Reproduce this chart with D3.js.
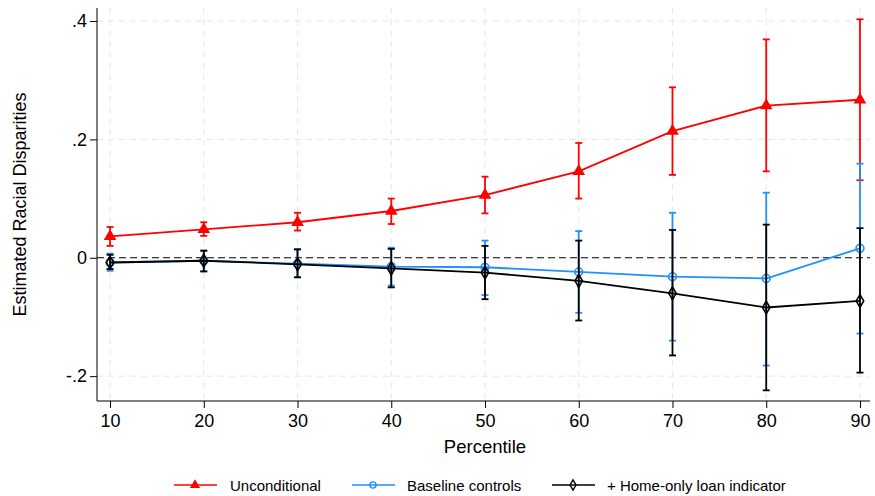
<!DOCTYPE html>
<html>
<head>
<meta charset="utf-8">
<script src="https://cdn.jsdelivr.net/npm/d3@7"></script>
<style>
  body { margin: 0; background: #fff; }
  text { font-family: "Liberation Sans", Arial, sans-serif; fill: #000; }
</style>
</head>
<body>
<div class="diagram"></div>
<script>
var width = 875, height = 496;

// data
var percentiles = [10, 20, 30, 40, 50, 60, 70, 80, 90];
var uncondEst = [0.036, 0.048, 0.060, 0.079, 0.106, 0.146, 0.214, 0.257, 0.267];
var uncondLo  = [0.020, 0.037, 0.046, 0.057, 0.075, 0.100, 0.140, 0.146, 0.131];
var uncondHi  = [0.052, 0.060, 0.076, 0.100, 0.137, 0.194, 0.288, 0.369, 0.403];
var baseEst = [-0.008, -0.005, -0.010, -0.015, -0.016, -0.024, -0.032, -0.035, 0.016];
var baseLo  = [-0.022, -0.023, -0.033, -0.047, -0.063, -0.093, -0.140, -0.182, -0.128];
var baseHi  = [0.007, 0.012, 0.015, 0.017, 0.029, 0.045, 0.076, 0.110, 0.159];
var homeEst = [-0.008, -0.005, -0.011, -0.018, -0.025, -0.039, -0.060, -0.084, -0.073];
var homeLo  = [-0.019, -0.023, -0.033, -0.050, -0.070, -0.106, -0.165, -0.224, -0.194];
var homeHi  = [0.005, 0.012, 0.014, 0.015, 0.020, 0.029, 0.047, 0.056, 0.050];
var yTicks = [-0.2, 0, 0.2, 0.4];
var yTickLabels = ["-.2", "0", ".2", ".4"];
var seriesNames = ["Unconditional", "Baseline controls", "+ Home-only loan indicator"];

function build(est, lo, hi) {
  return percentiles.map(function(p, i) { return {p: p, est: est[i], lo: lo[i], hi: hi[i]}; });
}

var series = [
  {name: seriesNames[0], color: "#ff0000", symbol: d3.symbolTriangle, fill: true, values: build(uncondEst, uncondLo, uncondHi)},
  {name: seriesNames[1], color: "#1e90ff", symbol: d3.symbolCircle, fill: false, values: build(baseEst, baseLo, baseHi)},
  {name: seriesNames[2], color: "#000000", symbol: d3.symbolDiamond, fill: false, values: build(homeEst, homeLo, homeHi)}
];

var plotLeft = 97, plotRight = 870, plotTop = 8, plotBottom = 401;

var x = d3.scaleLinear().domain([8.61, 91.07]).range([plotLeft, plotRight]);
var y = d3.scaleLinear().domain([-0.242, 0.422]).range([plotBottom, plotTop]);

var svg = d3.select('.diagram')
  .append('svg')
  .attr('width', width)
  .attr('height', height);

// grid
svg.append('g').selectAll('line')
  .data(percentiles).enter().append('line')
  .attr('x1', function(d) { return x(d); })
  .attr('x2', function(d) { return x(d); })
  .attr('y1', plotTop).attr('y2', plotBottom)
  .attr('stroke', '#e6e6e6').attr('stroke-dasharray', '6,5');

svg.append('g').selectAll('line')
  .data(yTicks.filter(function(d) { return d !== 0; })).enter().append('line')
  .attr('x1', plotLeft).attr('x2', plotRight)
  .attr('y1', function(d) { return y(d); })
  .attr('y2', function(d) { return y(d); })
  .attr('stroke', '#e6e6e6').attr('stroke-dasharray', '6,5');

// zero reference line
svg.append('line')
  .attr('x1', plotLeft).attr('x2', plotRight)
  .attr('y1', y(0)).attr('y2', y(0))
  .attr('stroke', '#000').attr('stroke-width', 1.2).attr('stroke-dasharray', '7,4');

// axes
var yAxis = svg.append('g')
  .attr('transform', 'translate(' + plotLeft + ',0)')
  .call(d3.axisLeft(y).tickValues(yTicks).tickSize(7).tickPadding(3)
    .tickFormat(function(d, i) { return yTickLabels[i]; }));

var xAxis = svg.append('g')
  .attr('transform', 'translate(0,' + plotBottom + ')')
  .call(d3.axisBottom(x).tickValues(percentiles).tickSize(7).tickPadding(6));

[xAxis, yAxis].forEach(function(a) {
  a.select('.domain').remove();
  a.selectAll('text').style('font-size', '18px').attr('fill', '#000');
  a.selectAll('.tick line').attr('stroke', '#000');
});
svg.append('line').attr('x1', plotLeft).attr('x2', plotLeft).attr('y1', plotTop).attr('y2', plotBottom).attr('stroke', '#000');
svg.append('line').attr('x1', plotLeft).attr('x2', plotRight).attr('y1', plotBottom).attr('y2', plotBottom).attr('stroke', '#000');

svg.append('text')
  .attr('x', 485).attr('y', 453)
  .attr('text-anchor', 'middle')
  .style('font-size', '18.5px')
  .text('Percentile');

svg.append('text')
  .attr('transform', 'translate(26,' + ((plotTop + plotBottom) / 2) + ') rotate(-90)')
  .attr('text-anchor', 'middle')
  .style('font-size', '18px')
  .text('Estimated Racial Disparities');

var line = d3.line()
  .x(function(d) { return x(d.p); })
  .y(function(d) { return y(d.est); });

var cap = 3.5;

series.forEach(function(s) {
  var g = svg.append('g');

  g.append('path')
    .attr('d', line(s.values))
    .attr('fill', 'none')
    .attr('stroke', s.color)
    .attr('stroke-width', 1.8);

  var eb = g.selectAll('.eb').data(s.values).enter().append('g');
  eb.append('line')
    .attr('x1', function(d) { return x(d.p); }).attr('x2', function(d) { return x(d.p); })
    .attr('y1', function(d) { return y(d.lo); }).attr('y2', function(d) { return y(d.hi); })
    .attr('stroke', s.color).attr('stroke-width', 1.8);
  eb.append('line')
    .attr('x1', function(d) { return x(d.p) - cap; }).attr('x2', function(d) { return x(d.p) + cap; })
    .attr('y1', function(d) { return y(d.lo); }).attr('y2', function(d) { return y(d.lo); })
    .attr('stroke', s.color).attr('stroke-width', 1.8);
  eb.append('line')
    .attr('x1', function(d) { return x(d.p) - cap; }).attr('x2', function(d) { return x(d.p) + cap; })
    .attr('y1', function(d) { return y(d.hi); }).attr('y2', function(d) { return y(d.hi); })
    .attr('stroke', s.color).attr('stroke-width', 1.8);

  g.selectAll('.pt').data(s.values).enter().append('path')
    .attr('d', d3.symbol().type(s.symbol).size(s.fill ? 42 : 48))
    .attr('transform', function(d) { return 'translate(' + x(d.p) + ',' + y(d.est) + ')'; })
    .attr('fill', s.fill ? s.color : 'none')
    .attr('stroke', s.color)
    .attr('stroke-width', 1.6);
});

// legend
var legendX = [174, 352, 552];
var legendTextX = [230, 407, 607];
var legend = svg.append('g').attr('transform', 'translate(0,485)');
series.forEach(function(s, i) {
  var lx = legendX[i];
  legend.append('line')
    .attr('x1', lx).attr('x2', lx + 43).attr('y1', 0).attr('y2', 0)
    .attr('stroke', s.color).attr('stroke-width', 1.6);
  legend.append('path')
    .attr('d', d3.symbol().type(s.symbol).size(s.fill ? 26 : 30))
    .attr('transform', 'translate(' + (lx + 21) + ',0)')
    .attr('fill', s.fill ? s.color : 'none')
    .attr('stroke', s.color).attr('stroke-width', 1.4);
  legend.append('text')
    .attr('x', legendTextX[i]).attr('y', 6)
    .style('font-size', '15px')
    .text(s.name);
});
</script>
</body>
</html>
